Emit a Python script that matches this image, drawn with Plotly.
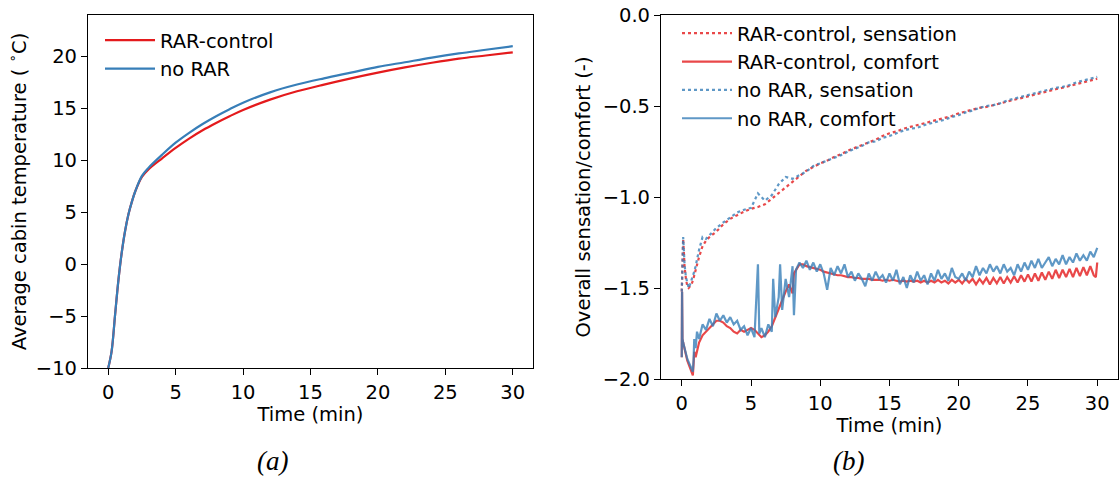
import plotly.graph_objects as go

W, H = 1119, 479
RED = "#e41a1c"
BLUE = "#377eb8"
RED_A = "rgba(228,26,28,0.8)"
BLUE_A = "rgba(55,126,184,0.8)"
FONT = "DejaVu Sans"
FS = 19.5

# ---------------- Panel (a): average cabin temperature ----------------
time_a = [0, 0.25, 0.5, 0.75, 1.0, 1.25, 1.5, 1.75, 2.0, 2.5, 3, 4, 5, 6, 7, 8, 9,
          10, 12, 14, 16, 18, 20, 22, 24, 26, 28, 30]
temp_rar = [-10, -8.4, -5.0, -1.6, 1.1, 3.2, 4.8, 6.0, 7.0, 8.4, 9.15, 10.2, 11.2,
            12.1, 12.9, 13.6, 14.25, 14.85, 15.85, 16.65, 17.3, 17.9, 18.45, 18.95,
            19.4, 19.8, 20.1, 20.4]
temp_norar = [-10, -8.4, -5.0, -1.6, 1.1, 3.2, 4.8, 6.0, 7.0, 8.5, 9.3, 10.55, 11.7,
              12.65, 13.5, 14.25, 14.93, 15.55, 16.55, 17.3, 17.9, 18.45, 19.0, 19.45,
              19.9, 20.3, 20.65, 21.0]

# ---------------- Panel (b): sensation / comfort ----------------
time_sens = [0, 0.05, 0.1, 0.15, 0.2, 0.3, 0.4, 0.5, 0.6, 0.7, 0.8, 0.9, 1.0, 1.25,
             1.5, 1.75, 2.0, 2.5, 3.0, 3.5, 4.0, 4.5, 5.0, 5.5, 6.0, 6.5, 7.0, 7.5,
             8.0, 8.5, 9.0, 9.5, 10, 10.5, 11, 11.5, 12, 12.5, 13, 13.5, 14, 14.5,
             15, 15.5, 16, 16.5, 17, 17.5, 18, 18.5, 19, 19.5, 20, 20.5, 21, 21.5,
             22, 22.5, 23, 23.5, 24, 24.5, 25, 25.5, 26, 26.5, 27, 27.5, 28, 28.5,
             29, 29.5, 30]
sens_rar = [-1.52, -1.30, -1.23, -1.30, -1.38, -1.45, -1.49, -1.50, -1.49, -1.48,
            -1.46, -1.43, -1.40, -1.33, -1.27, -1.24, -1.22, -1.19, -1.15, -1.12,
            -1.10, -1.08, -1.065, -1.055, -1.04, -1.01, -0.98, -0.95, -0.92, -0.885,
            -0.855, -0.835, -0.815, -0.80, -0.78, -0.765, -0.745, -0.73, -0.715,
            -0.70, -0.685, -0.665, -0.65, -0.64, -0.625, -0.615, -0.605, -0.595,
            -0.585, -0.575, -0.565, -0.555, -0.54, -0.53, -0.52, -0.51, -0.505,
            -0.495, -0.485, -0.475, -0.465, -0.455, -0.447, -0.437, -0.428, -0.418,
            -0.408, -0.40, -0.39, -0.38, -0.37, -0.36, -0.35]
sens_norar = [-1.52, -1.28, -1.22, -1.29, -1.37, -1.44, -1.48, -1.50, -1.48, -1.46,
              -1.44, -1.41, -1.38, -1.29, -1.22, -1.23, -1.21, -1.17, -1.14, -1.11,
              -1.085, -1.07, -1.06, -0.98, -1.02, -0.99, -0.93, -0.89, -0.90, -0.88,
              -0.86, -0.83, -0.815, -0.80, -0.785, -0.77, -0.75, -0.735, -0.72,
              -0.70, -0.695, -0.675, -0.665, -0.65, -0.635, -0.625, -0.62, -0.605,
              -0.595, -0.585, -0.575, -0.56, -0.55, -0.535, -0.525, -0.51, -0.50,
              -0.495, -0.485, -0.47, -0.46, -0.45, -0.44, -0.432, -0.42, -0.41,
              -0.40, -0.395, -0.385, -0.37, -0.36, -0.35, -0.34]

comfort_rar = [
    (0, -1.88), (0.02, -1.52), (0.05, -1.78), (0.1, -1.80), (0.2, -1.84), (0.3, -1.87),
    (0.4, -1.90), (0.5, -1.92), (0.6, -1.94), (0.7, -1.96), (0.8, -1.98), (0.85, -1.92),
    (0.9, -1.85), (1.0, -1.88), (1.1, -1.84), (1.25, -1.80), (1.5, -1.76), (1.75, -1.74),
    (2.0, -1.72), (2.25, -1.70), (2.5, -1.68), (2.75, -1.68), (3.0, -1.69), (3.25, -1.71),
    (3.5, -1.72), (3.75, -1.74), (4.0, -1.75), (4.25, -1.73), (4.5, -1.74), (4.75, -1.73),
    (5.0, -1.72), (5.25, -1.73), (5.5, -1.75), (5.75, -1.77), (6.0, -1.76), (6.25, -1.74),
    (6.5, -1.71), (6.75, -1.66), (7.0, -1.62), (7.25, -1.57), (7.5, -1.52), (7.75, -1.48),
    (8.0, -1.53), (8.1, -1.42), (8.25, -1.40), (8.5, -1.37), (8.75, -1.37), (9.0, -1.38),
    (9.25, -1.385), (9.5, -1.39), (9.75, -1.395), (10.0, -1.40), (10.25, -1.41),
    (10.5, -1.415), (10.75, -1.42), (11.0, -1.425), (11.25, -1.43), (11.5, -1.43),
    (11.75, -1.435), (12.0, -1.44), (12.25, -1.44), (12.5, -1.445), (12.75, -1.445),
    (13.0, -1.45), (13.25, -1.45), (13.5, -1.45), (13.75, -1.455), (14.0, -1.455),
    (14.25, -1.455), (14.5, -1.46), (14.75, -1.455), (15.0, -1.46), (15.25, -1.455),
    (15.5, -1.46), (15.75, -1.465), (16.0, -1.46), (16.25, -1.465), (16.5, -1.46),
    (16.75, -1.465), (17.0, -1.46), (17.25, -1.47), (17.5, -1.46), (17.75, -1.47),
    (18.0, -1.46), (18.25, -1.47), (18.5, -1.455), (18.75, -1.47), (19.0, -1.46),
    (19.25, -1.475), (19.5, -1.455), (19.75, -1.47), (20.0, -1.455), (20.25, -1.475),
    (20.5, -1.45), (20.75, -1.47), (21.0, -1.45), (21.25, -1.48), (21.5, -1.45),
    (21.75, -1.475), (22.0, -1.445), (22.25, -1.48), (22.5, -1.445), (22.75, -1.475),
    (23.0, -1.44), (23.25, -1.475), (23.5, -1.44), (23.75, -1.47), (24.0, -1.435),
    (24.25, -1.47), (24.5, -1.43), (24.75, -1.465), (25.0, -1.425), (25.25, -1.465),
    (25.5, -1.42), (25.75, -1.46), (26.0, -1.415), (26.25, -1.455), (26.5, -1.41),
    (26.75, -1.45), (27.0, -1.40), (27.25, -1.445), (27.5, -1.40), (27.75, -1.44),
    (28.0, -1.395), (28.25, -1.44), (28.5, -1.39), (28.75, -1.435), (29.0, -1.385),
    (29.25, -1.43), (29.5, -1.38), (29.75, -1.43), (29.9, -1.44), (30.0, -1.36),
]
comfort_norar = [
    (0, -1.88), (0.02, -1.52), (0.05, -1.78), (0.1, -1.80), (0.2, -1.84), (0.3, -1.86),
    (0.4, -1.89), (0.5, -1.91), (0.6, -1.93), (0.7, -1.95), (0.8, -1.96), (0.85, -1.90),
    (0.9, -1.78), (1.0, -1.83), (1.1, -1.74), (1.25, -1.78), (1.5, -1.70), (1.75, -1.73),
    (2.0, -1.67), (2.25, -1.71), (2.5, -1.64), (2.75, -1.68), (3.0, -1.65), (3.25, -1.69),
    (3.5, -1.66), (3.75, -1.70), (4.0, -1.68), (4.25, -1.73), (4.5, -1.71), (4.75, -1.76),
    (5.0, -1.72), (5.25, -1.77), (5.5, -1.37), (5.6, -1.75), (5.75, -1.72), (6.0, -1.77),
    (6.25, -1.70), (6.5, -1.74), (6.6, -1.45), (6.75, -1.66), (7.0, -1.55), (7.1, -1.37),
    (7.25, -1.62), (7.5, -1.45), (7.75, -1.55), (8.0, -1.38), (8.1, -1.65), (8.25, -1.40),
    (8.5, -1.36), (8.75, -1.39), (9.0, -1.35), (9.25, -1.40), (9.5, -1.36), (9.75, -1.41),
    (10.0, -1.37), (10.25, -1.42), (10.5, -1.51), (10.75, -1.39), (11.0, -1.43),
    (11.25, -1.38), (11.5, -1.42), (11.75, -1.37), (12.0, -1.44), (12.25, -1.41),
    (12.5, -1.46), (12.75, -1.42), (13.0, -1.45), (13.25, -1.49), (13.5, -1.42),
    (13.75, -1.46), (14.0, -1.41), (14.25, -1.45), (14.5, -1.43), (14.75, -1.47),
    (15.0, -1.42), (15.25, -1.46), (15.5, -1.40), (15.75, -1.48), (16.0, -1.44),
    (16.25, -1.50), (16.5, -1.43), (16.75, -1.47), (17.0, -1.41), (17.25, -1.46),
    (17.5, -1.43), (17.75, -1.48), (18.0, -1.42), (18.25, -1.46), (18.5, -1.40),
    (18.75, -1.45), (19.0, -1.42), (19.25, -1.46), (19.5, -1.39), (19.75, -1.44),
    (20.0, -1.45), (20.25, -1.42), (20.5, -1.46), (20.75, -1.41), (21.0, -1.44),
    (21.25, -1.38), (21.5, -1.43), (21.75, -1.39), (22.0, -1.42), (22.25, -1.37),
    (22.5, -1.41), (22.75, -1.38), (23.0, -1.42), (23.25, -1.37), (23.5, -1.41),
    (23.75, -1.39), (24.0, -1.43), (24.25, -1.37), (24.5, -1.41), (24.75, -1.36),
    (25.0, -1.40), (25.25, -1.35), (25.5, -1.39), (25.75, -1.34), (26.0, -1.39),
    (26.25, -1.36), (26.5, -1.33), (26.75, -1.38), (27.0, -1.34), (27.25, -1.37),
    (27.5, -1.32), (27.75, -1.37), (28.0, -1.33), (28.25, -1.36), (28.5, -1.31),
    (28.75, -1.35), (29.0, -1.32), (29.25, -1.35), (29.5, -1.30), (29.75, -1.33),
    (30.0, -1.28),
]

x_ticks = [0, 5, 10, 15, 20, 25, 30]
ya_ticks = [-10, -5, 0, 5, 10, 15, 20]
yb_ticks = [-2.0, -1.5, -1.0, -0.5, 0.0]
yb_ticklabels = ["−2.0", "−1.5", "−1.0", "−0.5", "0.0"]
panel_labels = ["(a)", "(b)"]

fig = go.Figure()

fig.add_trace(go.Scatter(x=time_a, y=temp_rar, mode="lines", name="RAR-control",
                         line=dict(color=RED, width=2.2, shape="spline", smoothing=1.0),
                         xaxis="x", yaxis="y", legend="legend"))
fig.add_trace(go.Scatter(x=time_a, y=temp_norar, mode="lines", name="no RAR",
                         line=dict(color=BLUE, width=2.2, shape="spline", smoothing=1.0),
                         xaxis="x", yaxis="y", legend="legend"))

fig.add_trace(go.Scatter(x=time_sens, y=sens_rar, mode="lines", name="RAR-control, sensation",
                         line=dict(color=RED_A, width=2.2, dash="dot"),
                         xaxis="x2", yaxis="y2", legend="legend2"))
fig.add_trace(go.Scatter(x=[p[0] for p in comfort_rar], y=[p[1] for p in comfort_rar],
                         mode="lines", name="RAR-control, comfort",
                         line=dict(color=RED_A, width=2.2),
                         xaxis="x2", yaxis="y2", legend="legend2"))
fig.add_trace(go.Scatter(x=time_sens, y=sens_norar, mode="lines", name="no RAR, sensation",
                         line=dict(color=BLUE_A, width=2.2, dash="dot"),
                         xaxis="x2", yaxis="y2", legend="legend2"))
fig.add_trace(go.Scatter(x=[p[0] for p in comfort_norar], y=[p[1] for p in comfort_norar],
                         mode="lines", name="no RAR, comfort",
                         line=dict(color=BLUE_A, width=2.2),
                         xaxis="x2", yaxis="y2", legend="legend2"))

axis_common = dict(showline=True, linecolor="black", linewidth=1.2, mirror=True,
                   ticks="outside", ticklen=6, tickwidth=1.2, tickcolor="black",
                   showgrid=False, zeroline=False, automargin=False,
                   tickfont=dict(family=FONT, size=FS, color="black"))
title_font = dict(family=FONT, size=FS, color="black")
label_font = dict(family="Liberation Serif", size=27, color="black", style="italic")

fig.update_layout(
    width=W, height=H,
    margin=dict(l=0, r=0, t=0, b=0, autoexpand=False),
    paper_bgcolor="white", plot_bgcolor="white",
    xaxis=dict(domain=[88 / W, 533 / W], range=[-1.5, 31.5], tickvals=x_ticks,
               title=dict(text="Time (min)", font=title_font, standoff=1),
               anchor="y", **axis_common),
    yaxis=dict(domain=[(H - 368) / H, (H - 15) / H], range=[-10, 24], tickvals=ya_ticks,
               title=dict(text="Average cabin temperature ( <sup>∘</sup>C)", font=title_font,
                          standoff=4),
               anchor="x", **axis_common),
    xaxis2=dict(domain=[661 / W, 1118 / W], range=[-1.5, 31.5], tickvals=x_ticks,
                title=dict(text="Time (min)", font=title_font, standoff=1),
                anchor="y2", **axis_common),
    yaxis2=dict(domain=[(H - 379) / H, (H - 15) / H], range=[-2.0, 0.0], tickvals=yb_ticks,
                ticktext=yb_ticklabels,
                title=dict(text="Overall sensation/comfort (-)", font=title_font, standoff=6),
                anchor="x2", **axis_common),
    legend=dict(x=100 / W, y=(H - 21) / H, xanchor="left", yanchor="top",
                bgcolor="rgba(0,0,0,0)", font=dict(family=FONT, size=FS, color="black"),
                itemwidth=50, tracegroupgap=0),
    legend2=dict(x=677 / W, y=(H - 14) / H, xanchor="left", yanchor="top",
                 bgcolor="rgba(0,0,0,0)", font=dict(family=FONT, size=FS, color="black"),
                 itemwidth=50, tracegroupgap=0),
    showlegend=True,
    annotations=[
        dict(text=panel_labels[0], x=272 / W, y=(H - 461) / H, xref="paper", yref="paper",
             xanchor="center", yanchor="middle", showarrow=False, font=label_font),
        dict(text=panel_labels[1], x=848 / W, y=(H - 461) / H, xref="paper", yref="paper",
             xanchor="center", yanchor="middle", showarrow=False, font=label_font),
    ],
)

fig.write_html("out.html", config={"displayModeBar": False},
               post_script="document.body.style.margin='0';document.body.style.padding='0';")
